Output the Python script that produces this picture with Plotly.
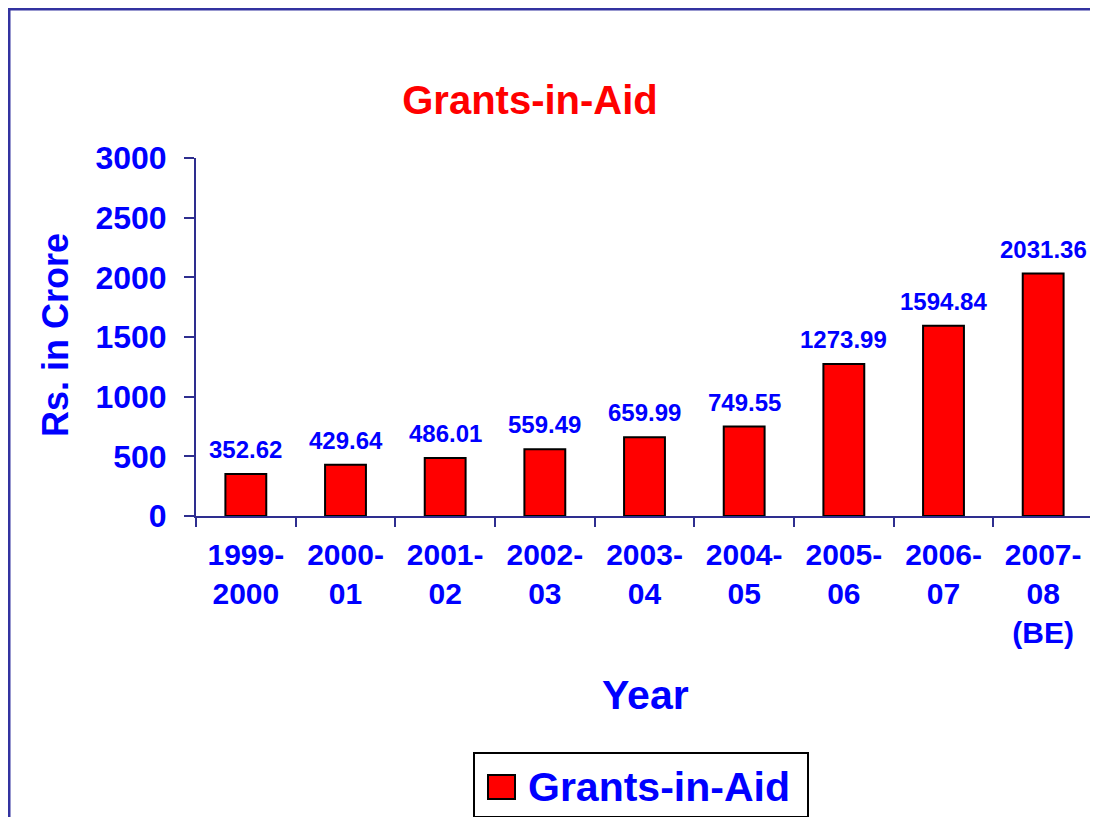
import plotly.graph_objs as go

# data
years = ['1999-<br>2000', '2000-<br>01', '2001-<br>02', '2002-<br>03', '2003-<br>04',
         '2004-<br>05', '2005-<br>06', '2006-<br>07', '2007-<br>08<br>(BE)']
grants = [352.62, 429.64, 486.01, 559.49, 659.99, 749.55, 1273.99, 1594.84, 2031.36]
y_ticks = [0, 500, 1000, 1500, 2000, 2500, 3000]
series_name = 'Grants-in-Aid'

FONT = 'Arial, Liberation Sans, sans-serif'
BLUE = '#0000ff'
NAVY = '#2e2e8f'

# plot area in pixels
L, R, T, B = 188, 13, 150, 309
W, H = 1098, 817
PW, PH = W - L - R, H - T - B


def px2x(px):
    return (px - L) / PW


def px2y(py):
    return (H - B - py) / PH


# Trace
trace = go.Bar(
    x=years, y=grants, name=series_name, showlegend=False,
    marker=dict(color='#ff0000', line=dict(color='black', width=2)),
    hoverinfo='x+y',
)

# value labels above bars
labels = [dict(x=c, y=v, text='%.2f' % v, xref='x', yref='y', xanchor='center',
               yanchor='bottom', yshift=9, showarrow=False,
               font=dict(family=FONT, size=24, color=BLUE, weight='bold'))
          for c, v in zip(years, grants)]

# Layout
layout = go.Layout(
    width=W, height=H,
    paper_bgcolor='white', plot_bgcolor='white',
    margin=dict(l=L, r=R, t=T, b=B),
    font=dict(family=FONT, color=BLUE),
    title=dict(text='Grants-in-Aid', x=522 / W, xref='container', xanchor='center',
               y=1 - 92 / H, yref='container', yanchor='middle',
               font=dict(family=FONT, size=40, color='#ff0000', weight='bold')),
    bargap=0.59,
    xaxis=dict(showline=True, linecolor=NAVY, linewidth=2,
               ticks='outside', tickson='boundaries', ticklen=9, tickwidth=2, tickcolor=NAVY,
               ticklabelstandoff=11,
               tickfont=dict(family=FONT, size=30, color=BLUE, weight='bold'),
               showgrid=False),
    yaxis=dict(range=[0, 3000], tickvals=y_ticks, showline=True, linecolor=NAVY, linewidth=2,
               ticks='outside', ticklen=10, tickwidth=2, tickcolor=NAVY,
               ticklabelstandoff=11,
               tickfont=dict(family=FONT, size=32, color=BLUE, weight='bold'),
               showgrid=False, zeroline=False),
    annotations=labels + [
        dict(text='Year', xref='paper', yref='paper', x=px2x(637), y=px2y(687),
             xanchor='center', yanchor='middle', showarrow=False,
             font=dict(family=FONT, size=41, color=BLUE, weight='bold')),
        dict(text='Rs. in Crore', xref='paper', yref='paper', x=px2x(47), y=px2y(327),
             xanchor='center', yanchor='middle', textangle=-90,
             showarrow=False, font=dict(family=FONT, size=36, color=BLUE, weight='bold')),
        # legend text
        dict(text=series_name, xref='paper', yref='paper', x=px2x(518), y=px2y(779),
             xanchor='left', yanchor='middle', showarrow=False,
             font=dict(family=FONT, size=41, color=BLUE, weight='bold')),
    ],
    shapes=[
        # outer frame
        dict(type='rect', xref='paper', yref='paper', layer='below',
             x0=px2x(1), x1=px2x(1200), y0=px2y(900), y1=px2y(1),
             line=dict(color='#3333a0', width=3)),
        # legend box
        dict(type='rect', xref='paper', yref='paper',
             x0=px2x(466), x1=px2x(800), y0=px2y(809), y1=px2y(745),
             line=dict(color='black', width=2), fillcolor='white', layer='below'),
        # legend symbol
        dict(type='rect', xref='paper', yref='paper',
             x0=px2x(480), x1=px2x(507), y0=px2y(791), y1=px2y(767),
             line=dict(color='black', width=2), fillcolor='#ff0000'),
    ],
)

fig = go.Figure(data=[trace], layout=layout)
fig.write_html('out.html')
